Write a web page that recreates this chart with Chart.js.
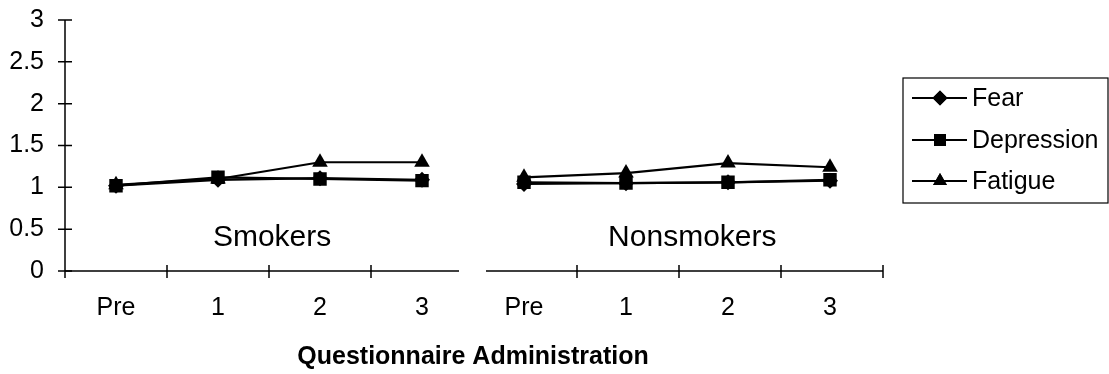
<!DOCTYPE html>
<html>
<head>
<meta charset="utf-8">
<script src="https://cdn.jsdelivr.net/npm/chart.js@4"></script>
<style>
  body { margin: 0; background: #fff; }
  canvas { display: block; }
</style>
</head>
<body>
<canvas id="chart" width="1109" height="374"></canvas>
<script>
// DATA
const labels = ["Pre", "1", "2", "3", "Pre", "1", "2", "3"];
const groups = ["Smokers", "Nonsmokers"];
const fear = [1.02, 1.09, 1.11, 1.09, 1.04, 1.05, 1.06, 1.08];
const depression = [1.02, 1.12, 1.10, 1.08, 1.06, 1.05, 1.06, 1.09];
const fatigue = [1.03, 1.10, 1.30, 1.30, 1.12, 1.17, 1.29, 1.24];
const yTicks = [0, 0.5, 1, 1.5, 2, 2.5, 3];

const FONT = "'Liberation Sans', Arial, sans-serif";

// no line between the last smokers point and the first nonsmokers point
const breakSeg = c => c.p0DataIndex === 3 ? "rgba(0,0,0,0)" : undefined;

function series(label, data, style, radius) {
    return {
        label: label,
        data: data,
        borderColor: "#000",
        backgroundColor: "#000",
        borderWidth: 2.2,
        pointStyle: style,
        pointRadius: radius,
        pointBorderWidth: 0,
        pointBackgroundColor: "#000",
        tension: 0,
        segment: { borderColor: breakSeg }
    };
}

// axes, tick marks, group names and legend box
const decor = {
    id: "decor",
    afterDraw(chart) {
        const ctx = chart.ctx;
        const x = chart.scales.x;
        const y = chart.scales.y;
        const area = chart.chartArea;
        ctx.save();
        ctx.strokeStyle = "#000";
        ctx.lineWidth = 1.5;

        // y axis
        ctx.beginPath();
        ctx.moveTo(area.left, y.getPixelForValue(3));
        ctx.lineTo(area.left, area.bottom + 7);
        yTicks.forEach(v => {
            const py = y.getPixelForValue(v);
            ctx.moveTo(area.left - 7, py);
            ctx.lineTo(area.left + 7, py);
        });
        ctx.stroke();

        // x axis, broken between groups
        const mid = x.getPixelForValue(3.5);
        ctx.beginPath();
        ctx.moveTo(area.left, area.bottom);
        ctx.lineTo(mid - 14, area.bottom);
        ctx.moveTo(mid + 13, area.bottom);
        ctx.lineTo(area.right + 2, area.bottom);
        [0.5, 1.5, 2.5, 4.5, 5.5, 6.5, 7.5].forEach(v => {
            const px = x.getPixelForValue(v) + (v > 4 ? 2 : 0);
            ctx.moveTo(px, area.bottom - 6);
            ctx.lineTo(px, area.bottom + 7);
        });
        ctx.stroke();

        // group names
        ctx.fillStyle = "#000";
        ctx.font = "30px " + FONT;
        ctx.textAlign = "center";
        ctx.textBaseline = "middle";
        ctx.fillText(groups[0], x.getPixelForValue(1.53), y.getPixelForValue(0.4));
        ctx.fillText(groups[1], x.getPixelForValue(5.65), y.getPixelForValue(0.4));

        // legend
        const lx = 903, ly = 78, lw = 205, lh = 125;
        ctx.lineWidth = 1.2;
        ctx.strokeRect(lx, ly, lw, lh);
        ctx.font = "25px " + FONT;
        ctx.textAlign = "left";
        const rows = [98, 140, 181];
        const sizes = [7.5, 8.5, 8];
        chart.data.datasets.forEach((ds, i) => {
            const ry = rows[i];
            ctx.lineWidth = 1.8;
            ctx.beginPath();
            ctx.moveTo(912, ry);
            ctx.lineTo(967, ry);
            ctx.stroke();
            Chart.helpers.drawPoint(ctx, {
                pointStyle: ds.pointStyle,
                radius: sizes[i],
                borderWidth: 0,
                rotation: 0
            }, 940, ry);
            ctx.fill();
            ctx.fillText(ds.label, 972, ry + 1);
        });
        ctx.restore();
    }
};

new Chart(document.getElementById("chart"), {
    type: "line",
    data: {
        labels: labels,
        datasets: [
            series("Fear", fear, "rectRot", 8),
            series("Depression", depression, "rect", 9.5),
            series("Fatigue", fatigue, "triangle", 9)
        ]
    },
    options: {
        responsive: false,
        animation: false,
        layout: { padding: { top: 20, right: 228, left: 0, bottom: 0 } },
        plugins: {
            legend: { display: false },
            tooltip: { enabled: false }
        },
        scales: {
            x: {
                offset: true,
                grid: { display: false },
                border: { display: false },
                ticks: {
                    color: "#000",
                    font: { family: FONT, size: 25 },
                    padding: 14,
                    maxRotation: 0
                },
                title: {
                    display: true,
                    text: "Questionnaire Administration",
                    color: "#000",
                    font: { family: FONT, size: 25, weight: "bold" },
                    padding: { top: 0, bottom: 2 }
                },
                afterFit: s => { s.height = 103; }
            },
            y: {
                min: 0,
                max: 3,
                grid: { display: false },
                border: { display: false },
                afterBuildTicks: s => { s.ticks = yTicks.map(v => ({ value: v })); },
                ticks: {
                    color: "#000",
                    font: { family: FONT, size: 25 },
                    padding: 13,
                    callback: v => String(v)
                },
                afterFit: s => { s.width = 65; s.paddingTop = 0; s.paddingBottom = 0; }
            }
        }
    },
    plugins: [decor]
});
</script>
</body>
</html>
